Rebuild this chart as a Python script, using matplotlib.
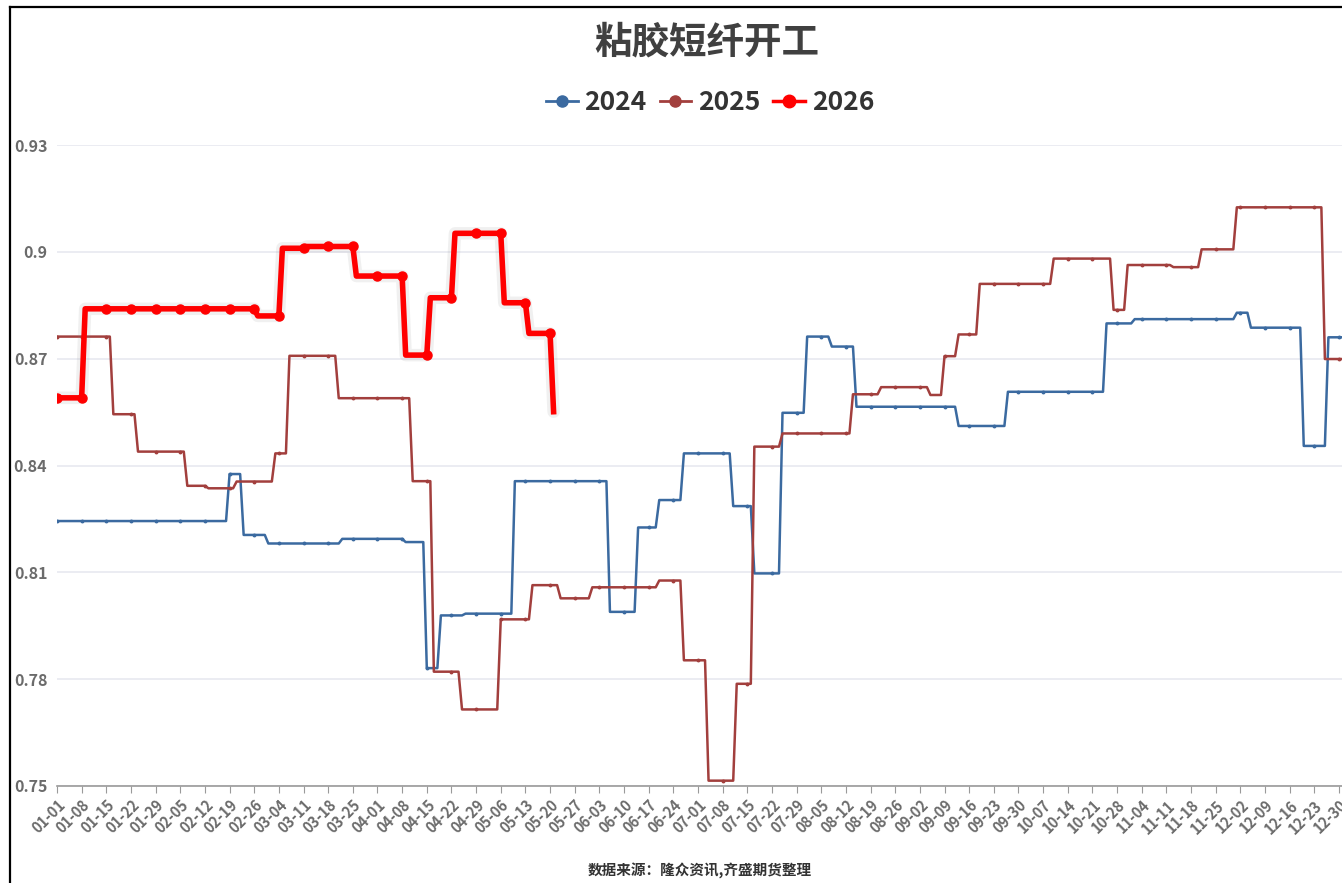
import numpy as np
import pandas as pd
import matplotlib
matplotlib.use('Agg')
import matplotlib.pyplot as plt
from matplotlib.lines import Line2D

plt.rcParams['font.family'] = ['Noto Sans CJK SC', 'DejaVu Sans']

# category axis: every day of a (leap) year as MM-DD
days = pd.date_range('2024-01-01', '2024-12-31').strftime('%m-%d').tolist()
idx = {d: i for i, d in enumerate(days)}

# 2024: dates where the run rate changes and the new level
chg_2024 = ['01-01', '02-19', '02-23', '03-01', '03-22', '04-09', '04-15', '04-19', '04-26',
            '05-10', '06-06', '06-14', '06-20', '06-27', '07-11', '07-17', '07-25', '08-01',
            '08-08', '08-15', '09-13', '09-27', '10-25', '11-02', '12-01', '12-05', '12-20',
            '12-27']
val_2024 = [0.8244, 0.8376, 0.8205, 0.8181, 0.8194, 0.8185, 0.7831, 0.7979, 0.7984,
            0.8356, 0.7989, 0.8226, 0.8303, 0.8434, 0.8286, 0.8097, 0.8548, 0.8762,
            0.8734, 0.8565, 0.8511, 0.8607, 0.8799, 0.8811, 0.8829, 0.8787, 0.8455,
            0.8760]

# 2025
chg_2025 = ['01-01', '01-17', '01-24', '02-07', '02-13', '02-21', '03-03', '03-07', '03-21',
            '04-11', '04-17', '04-25', '05-06', '05-15', '05-23', '06-01', '06-20', '06-27',
            '07-04', '07-12', '07-17', '07-25', '08-14', '08-22', '09-05', '09-09', '09-13',
            '09-19', '10-10', '10-27', '10-31', '11-13', '11-21', '12-01', '12-26']
val_2025 = [0.8762, 0.8544, 0.8439, 0.8343, 0.8336, 0.8355, 0.8434, 0.8708, 0.8589,
            0.8356, 0.7821, 0.7715, 0.7968, 0.8064, 0.8027, 0.8058, 0.8077, 0.7853,
            0.7515, 0.7787, 0.8453, 0.8490, 0.8600, 0.8620, 0.8598, 0.8707, 0.8768,
            0.8910, 0.8981, 0.8837, 0.8963, 0.8957, 0.9007, 0.9125, 0.8699]

# 2026: weekly readings (each covers the days up to its date), last one is the latest day
wk_2026 = ['01-01', '01-08', '01-15', '01-22', '01-29', '02-05', '02-12', '02-19', '02-26',
           '03-04', '03-11', '03-18', '03-25', '04-01', '04-08', '04-15', '04-22', '04-29',
           '05-06', '05-13', '05-20', '05-21']
val_2026 = [0.859, 0.859, 0.884, 0.884, 0.884, 0.884, 0.884, 0.884, 0.884,
            0.882, 0.901, 0.9015, 0.9015, 0.8932, 0.8932, 0.871, 0.8871, 0.9052,
            0.9052, 0.8857, 0.8771, 0.8551]

yticks = [0.75, 0.78, 0.81, 0.84, 0.87, 0.90, 0.93]
ylabels = ['0.75', '0.78', '0.81', '0.84', '0.87', '0.9', '0.93']


def fill_forward(dates, vals):
    out = np.full(len(days), np.nan)
    for d, v in zip(dates, vals):
        out[idx[d]:] = v
    return out


def fill_backward(dates, vals):
    out = np.full(len(days), np.nan)
    out[0] = vals[0]
    prev = 0
    for d, v in zip(dates[1:], vals[1:]):
        p = idx[d]
        out[prev + 1:p + 1] = v
        prev = p
    return out


y24 = fill_forward(chg_2024, val_2024)
y25 = fill_forward(chg_2025, val_2025)
y26 = fill_backward(wk_2026, val_2026)
x = np.arange(len(days))

c24 = '#3b6aa0'
c25 = '#a23f3d'
c26 = '#ff0000'

W, H = 1342, 883
fig = plt.figure(figsize=(W / 100, H / 100), dpi=100)
ax = fig.add_axes([57 / W, 1 - 786 / H, (1342.5 - 57) / W, (786 - 145) / H])

ax.plot(x, y24, color=c24, lw=1.8, marker='o', ms=1.8, markevery=7, zorder=3)
ax.plot(x, y25, color=c25, lw=1.8, marker='o', ms=1.8, markevery=7, zorder=3)
# soft shadow under the 2026 line
ax.plot(x, y26, color='#888888', lw=9, alpha=0.12, solid_capstyle='round', zorder=3)
mk26 = [idx[d] for d in wk_2026[:-1]]
ax.plot(x, y26, color=c26, lw=4, marker='o', ms=6.5, markevery=mk26, zorder=4)

ax.set_xlim(0, len(days) - 1)
ax.set_ylim(0.75, 0.93)
ax.set_yticks(yticks)
ax.set_yticklabels(ylabels)
ax.set_xticks(x[::7])
ax.set_xticklabels(days[::7], rotation=45, ha='right', va='top', rotation_mode='anchor')

for s in ['top', 'right', 'left']:
    ax.spines[s].set_visible(False)
ax.spines['bottom'].set_color('#9a9a9a')
ax.spines['bottom'].set_linewidth(1.2)
ax.grid(axis='y', color='#e6e7ef', lw=1.1)
ax.set_axisbelow(True)
ax.tick_params(axis='y', length=0, pad=7, labelsize=11.5, labelcolor='#6b6b6b')
ax.tick_params(axis='x', length=5, color='#9a9a9a', pad=3, labelsize=10.5, labelcolor='#6b6b6b')
for t in ax.get_xticklabels() + ax.get_yticklabels():
    t.set_fontweight('bold')

fig.text(707 / W, 1 - 42 / H, '粘胶短纤开工', ha='center', va='center', fontsize=27,
         fontweight='bold', color='#404040')

handles = [Line2D([], [], color=c24, lw=2, marker='o', ms=8),
           Line2D([], [], color=c25, lw=2, marker='o', ms=8),
           Line2D([], [], color=c26, lw=2.5, marker='o', ms=9)]
fig.legend(handles, ['2024', '2025', '2026'], loc='center', bbox_to_anchor=(710 / W, 1 - 103 / H),
           ncol=3, frameon=False, handlelength=1.2, handletextpad=0.25, columnspacing=0.5,
           prop={'size': 19, 'weight': 'bold'}, labelcolor='#333333')

fig.text(700 / W, 1 - 871 / H, '数据来源：隆众资讯,齐盛期货整理', ha='center', va='center',
         fontsize=10.5, fontweight='bold', color='#333333')

# frame lines on the left and top of the picture
fig.add_artist(Line2D([10 / W, 10 / W], [0, 1 - 7 / H], transform=fig.transFigure, color='black', lw=1.6))
fig.add_artist(Line2D([10 / W, 1], [1 - 7 / H, 1 - 7 / H], transform=fig.transFigure, color='black', lw=1.6))

fig.savefig('out.png', dpi=100)
